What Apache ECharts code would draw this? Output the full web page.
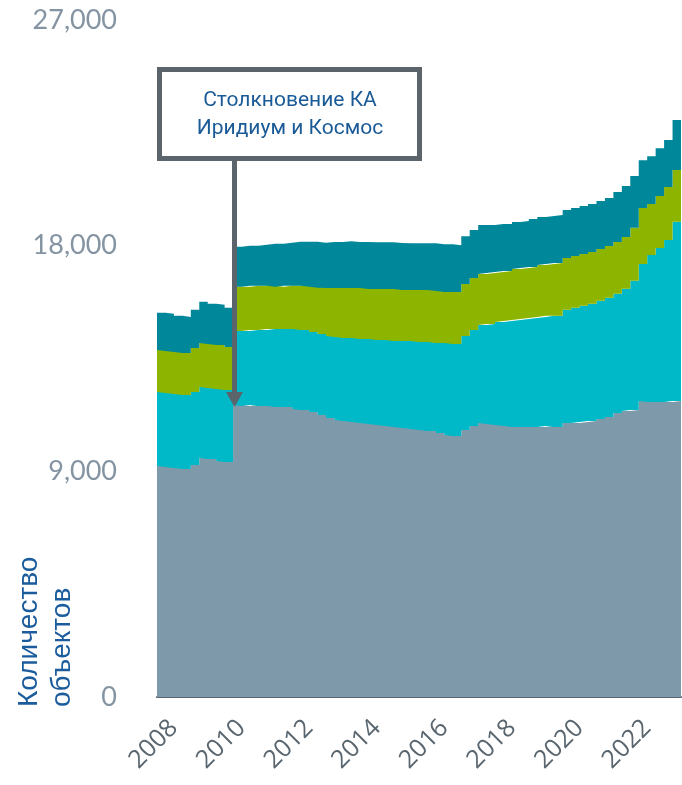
<!DOCTYPE html>
<html>
<head>
<meta charset="utf-8">
<script src="https://cdn.jsdelivr.net/npm/echarts@6/dist/echarts.min.js"></script>
<style>
  html, body { margin: 0; padding: 0; background: #fff; }
  #chart { width: 682px; height: 785px; }
</style>
</head>
<body>
<div id="chart"></div>
<script>
// quarterly points, 2007-07 .. 2023-01
let categories = [];
for (let i = 0; i < 63; i++) {
    let m = 7 + i * 3;
    let y = 2007 + Math.floor((m - 1) / 12);
    let mm = ((m - 1) % 12) + 1;
    categories.push(y + '-' + (mm < 10 ? '0' + mm : mm));
}

let yTicks = [0, 9000, 18000, 27000];

// bottom layer (gray)
let payloads = [9210, 9170, 9130, 9090, 9250, 9530, 9490, 9410, 9370,
    11650, 11610, 11650, 11610, 11610, 11570, 11570, 11490, 11450, 11370,
    11250, 11130, 11050, 11010, 10970, 10930, 10890, 10850, 10810, 10770,
    10730, 10690, 10650, 10610, 10530, 10450, 10410, 10650, 10810, 10930,
    10890, 10850, 10810, 10770, 10770, 10770, 10770, 10810, 10770, 10930,
    10930, 10970, 11010, 11090, 11170, 11330, 11410, 11450, 11810, 11770,
    11770, 11770, 11810, 11810];
// cyan
let layer2 = [2950, 2950, 2950, 2950, 2910, 2830, 2830, 2870, 2870,
    2950, 2990, 2990, 3030, 3070, 3110, 3110, 3190, 3190, 3190,
    3230, 3270, 3310, 3310, 3350, 3350, 3390, 3390, 3430, 3430,
    3470, 3510, 3510, 3550, 3590, 3670, 3670, 3750, 3830, 3910,
    3990, 4110, 4190, 4270, 4310, 4350, 4390, 4390, 4430, 4510,
    4590, 4630, 4670, 4710, 4750, 4750, 4870, 5150, 5460, 5860,
    6140, 6460, 7140, 7380];
// green
let layer3 = [1680, 1680, 1680, 1680, 1760, 1760, 1760, 1760, 1720,
    1760, 1760, 1760, 1760, 1720, 1680, 1720, 1720, 1760, 1800,
    1840, 1910, 1950, 1990, 1990, 2030, 1990, 2030, 2030, 2070,
    2030, 2030, 2070, 2070, 2070, 2030, 2070, 2070, 2070, 2030,
    2030, 1990, 1990, 2030, 2030, 2030, 2070, 2070, 2110, 2070,
    2070, 2070, 2070, 2070, 2070, 2070, 2070, 2110, 2230, 2030,
    2070, 2110, 2070, 2070];
// teal (top)
let layer4 = [1480, 1480, 1440, 1440, 1520, 1640, 1600, 1600, 1560,
    1600, 1640, 1600, 1640, 1680, 1720, 1720, 1760, 1760, 1800,
    1800, 1840, 1840, 1870, 1840, 1840, 1870, 1870, 1870, 1840,
    1870, 1870, 1870, 1870, 1870, 1910, 1870, 1910, 1910, 1950,
    1910, 1910, 1870, 1870, 1870, 1910, 1910, 1910, 1910, 1910,
    1910, 1910, 1910, 1910, 1910, 1990, 2030, 2070, 1910, 1910,
    1910, 1870, 1990, 1910];

let colors = ['#7e99aa', '#00b9c8', '#8db500', '#00879a'];
let layers = [payloads, layer2, layer3, layer4];

function areaSeries(data, color) {
    return {
        type: 'line',
        stack: 'total',
        step: 'end',
        symbol: 'none',
        data: data,
        lineStyle: {width: 0},
        areaStyle: {color: color, opacity: 1},
        itemStyle: {color: color}
    };
}

let chart = echarts.init(document.getElementById('chart'));
chart.setOption({
    animation: false,
    grid: {left: 157, right: 1, top: 20, bottom: 88},
    xAxis: {
        type: 'category',
        boundaryGap: false,
        data: categories,
        axisLine: {lineStyle: {color: '#56626c', width: 2}},
        axisTick: {show: false},
        axisLabel: {
            rotate: 45,
            margin: 27,
            color: '#5a666f',
            fontFamily: 'Open Sans',
            fontSize: 25,
            interval: function (idx, val) {
                return val.slice(5) === '01' && parseInt(val) % 2 === 0;
            },
            formatter: function (val) { return val.slice(0, 4); }
        }
    },
    yAxis: {
        type: 'value',
        min: yTicks[0],
        max: yTicks[yTicks.length - 1],
        interval: 9000,
        axisLine: {show: false},
        axisTick: {show: false},
        splitLine: {show: false},
        axisLabel: {
            margin: 40,
            color: '#8494a3',
            fontFamily: 'Lato',
            fontSize: 27,
            formatter: function (v) { return v.toLocaleString('en-US'); }
        }
    },
    series: layers.map(function (d, i) { return areaSeries(d, colors[i]); }),
    graphic: [
        {
            type: 'text', x: 29, y: 707, rotation: Math.PI / 2,
            style: {text: 'Количество', fill: '#1b5c9c', font: '28px "Liberation Sans"',
                    align: 'left', verticalAlign: 'middle'}
        },
        {
            type: 'text', x: 62, y: 707, rotation: Math.PI / 2,
            style: {text: 'объектов', fill: '#1b5c9c', font: '28px "Liberation Sans"',
                    align: 'left', verticalAlign: 'middle'}
        },
        {
            type: 'rect', z: 100,
            shape: {x: 159.5, y: 69.5, width: 260, height: 89},
            style: {fill: '#fff', stroke: '#5b636b', lineWidth: 5}
        },
        {
            type: 'text', z: 101, x: 290, y: 101,
            style: {text: 'Столкновение КА', fill: '#1a5a96', font: '21px Roboto',
                    align: 'center', verticalAlign: 'middle'}
        },
        {
            type: 'text', z: 101, x: 290, y: 129,
            style: {text: 'Иридиум и Космос', fill: '#1a5a96', font: '21px Roboto',
                    align: 'center', verticalAlign: 'middle'}
        },
        {
            type: 'line', z: 100,
            shape: {x1: 234.5, y1: 161, x2: 234.5, y2: 394},
            style: {stroke: '#5b636b', lineWidth: 5}
        },
        {
            type: 'polygon', z: 100,
            shape: {points: [[226, 392], [243, 392], [234.5, 407]]},
            style: {fill: '#5b636b'}
        }
    ]
});
</script>
</body>
</html>
